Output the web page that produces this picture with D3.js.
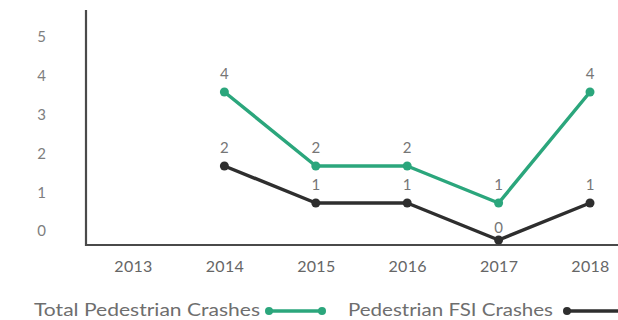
<!DOCTYPE html>
<html>
<head>
<meta charset="utf-8">
<script src="https://cdn.jsdelivr.net/npm/d3@7/dist/d3.min.js"></script>
<style>
  html, body { margin: 0; padding: 0; background: #fff; }
  svg { display: block; font-family: Lato, "Open Sans", sans-serif; }
</style>
</head>
<body>
<svg id="chart" width="618" height="320"></svg>
<script>
// Pedestrian crashes by year
const years = ["2013", "2014", "2015", "2016", "2017", "2018"];
const totalCrashes = [null, 4, 2, 2, 1, 4];
const fsiCrashes = [null, 2, 1, 1, 0, 1];
const yTicks = [0, 1, 2, 3, 4, 5];
const seriesNames = ["Total Pedestrian Crashes", "Pedestrian FSI Crashes"];
const seriesColors = ["#2ba67c", "#2e2e2e"];

const svg = d3.select("#chart");

const x = d3.scalePoint().domain(years).range([133, 590]);
const y = d3.scaleLinear().domain([0, 5]).range([240, 55]);
// the value axis labels sit on their own, slightly wider spacing
const yLabel = d3.scaleLinear().domain([0, 5]).range([231, 37]);

// value axis labels
const yAxis = svg.append("g")
  .attr("transform", "translate(46,0)")
  .call(d3.axisLeft(yLabel).tickValues(yTicks).tickSize(0).tickPadding(0).tickFormat(d3.format("d")));
yAxis.select(".domain").remove();
yAxis.selectAll("text")
  .attr("fill", "#7e7e7e")
  .style("font-size", "15px")
  .style("font-family", "Lato, sans-serif");

// year labels
const xAxis = svg.append("g")
  .attr("transform", "translate(0,261)")
  .call(d3.axisBottom(x).tickSize(0).tickPadding(0));
xAxis.select(".domain").remove();
xAxis.selectAll("text")
  .attr("fill", "#666")
  .style("font-size", "16px")
  .style("letter-spacing", "0.3px")
  .style("font-family", "Lato, sans-serif");

// frame: vertical axis and baseline
svg.append("path")
  .attr("d", "M86,10 V245 H618")
  .attr("fill", "none")
  .attr("stroke", "#4a4a4a")
  .attr("stroke-width", 2.2);

const series = [totalCrashes, fsiCrashes];

const line = d3.line()
  .defined(d => d.v !== null)
  .x(d => x(d.year))
  .y(d => y(d.v));

series.forEach((vals, i) => {
  const pts = years.map((year, j) => ({ year, v: vals[j] }));
  const valid = pts.filter(d => d.v !== null);
  const g = svg.append("g");
  g.append("path")
    .datum(pts)
    .attr("d", line)
    .attr("fill", "none")
    .attr("stroke", seriesColors[i])
    .attr("stroke-width", 3.5)
    .attr("stroke-linejoin", "round");
  g.selectAll("circle")
    .data(valid)
    .join("circle")
    .attr("cx", d => x(d.year))
    .attr("cy", d => y(d.v))
    .attr("r", 4.5)
    .attr("fill", seriesColors[i]);
  g.selectAll("text")
    .data(valid)
    .join("text")
    .attr("x", d => x(d.year))
    .attr("y", d => y(d.v) - (d.v === 0 ? 7 : 13))
    .attr("text-anchor", "middle")
    .attr("fill", "#767676")
    .style("font-size", "15px")
    .text(d => d.v);
});

// legend
const legend = svg.append("g").attr("transform", "translate(0,310)");
const legendItems = [
  { tx: 34, len: 226, mx0: 269, mx1: 322 },
  { tx: 348, len: 205, mx0: 567, mx1: 622 }
];
legendItems.forEach((it, i) => {
  legend.append("text")
    .attr("x", it.tx)
    .attr("y", 0)
    .attr("dy", "0.35em")
    .attr("fill", "#6e6e6e")
    .attr("textLength", it.len)
    .attr("lengthAdjust", "spacingAndGlyphs")
    .style("font-size", "17px")
    .text(seriesNames[i]);
  legend.append("line")
    .attr("x1", it.mx0).attr("x2", it.mx1)
    .attr("y1", 1).attr("y2", 1)
    .attr("stroke", seriesColors[i])
    .attr("stroke-width", 3.5);
  [it.mx0, it.mx1].forEach(cx => {
    legend.append("circle")
      .attr("cx", cx).attr("cy", 1).attr("r", 4)
      .attr("fill", seriesColors[i]);
  });
});
</script>
</body>
</html>
